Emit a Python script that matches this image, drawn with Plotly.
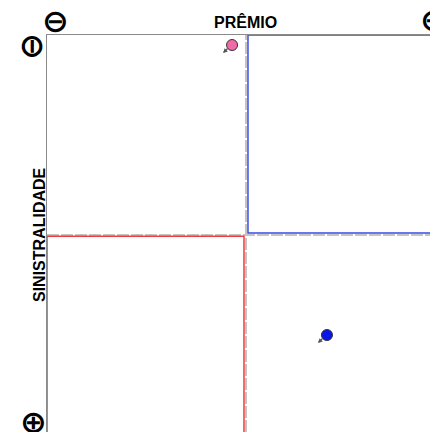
import plotly.graph_objects as go

# Data
names = ["Ponto A", "Ponto B"]
premio = [-0.07, 0.407]          # x: PRÊMIO (negative = left / "−")
sinistralidade = [-0.95, 0.50]   # y: SINISTRALIDADE (negative = top / "−")
colors = ["#f06aa8", "#0a14e6"]

x_title = "PRÊMIO"
y_title = "SINISTRALIDADE"

OFF = 8  # page body margin
W, H = 438 - OFF, 432 - OFF
ML, MT = 47 - OFF, 35 - OFF
PW, PH = W - ML, H - MT
X_RANGE = [-1, 0.965]
Y_RANGE = [0.985, -1]

fig = go.Figure()

fig.add_trace(go.Scatter(
    x=premio, y=sinistralidade, mode="markers", text=names,
    marker=dict(size=11, color=colors, line=dict(color="#333", width=1)),
    hoverinfo="text", showlegend=False,
))

shapes = [
    # dashed centre lines
    dict(type="line", xref="x", yref="paper", x0=0, x1=0, y0=0, y1=1,
         line=dict(color="#c4c4c4", width=2, dash="12px,2px"), layer="below"),
    dict(type="line", xref="paper", yref="y", x0=0, x1=1, y0=0, y1=0,
         line=dict(color="#c4c4c4", width=2, dash="12px,2px"), layer="below"),
    # quadrant rectangles
    dict(type="rect", xref="x", yref="y", x0=0.01, x1=1.1, y0=-1, y1=-0.01,
         line=dict(color="#3a4ae8", width=1.5), layer="above"),
    dict(type="rect", xref="x", yref="y", x0=-1, x1=-0.01, y0=0.006, y1=1.1,
         line=dict(color="#f03c3c", width=1.5), layer="above"),
]

annotations = []
# small arrows next to points
for xv, yv in zip(premio, sinistralidade):
    annotations.append(dict(
        x=xv, y=yv, xref="x", yref="y", text="", showarrow=True,
        xshift=-9, yshift=-8, ax=6, ay=-6, arrowhead=2, arrowsize=0.7,
        arrowwidth=1.3, arrowcolor="#555",
    ))

def px_x(px):
    return (px - OFF - ML) / PW

def px_y(py):
    return (H - (py - OFF)) / PH

sym_font = dict(family="DejaVu Sans", size=32, color="black")
annotations += [
    dict(text="<b>" + x_title + "</b>", x=px_x(245), y=px_y(22), xref="paper", yref="paper",
         showarrow=False, font=dict(family="Liberation Sans", size=16, color="black"),
         xanchor="center", yanchor="middle"),
    dict(text="<b>" + y_title + "</b>", x=px_x(39), y=px_y(235), xref="paper", yref="paper",
         showarrow=False, textangle=-90,
         font=dict(family="Liberation Sans", size=16, color="black"),
         xanchor="center", yanchor="middle"),
    dict(text="<b>⊖</b>", x=px_x(55), y=px_y(21), xref="paper", yref="paper",
         showarrow=False, font=sym_font, xanchor="center", yanchor="middle"),
    dict(text="<b>⊕</b>", x=px_x(433), y=px_y(20), xref="paper", yref="paper",
         showarrow=False, font=sym_font, xanchor="center", yanchor="middle"),
    dict(text="<b>⊖</b>", x=px_x(33), y=px_y(46), xref="paper", yref="paper",
         showarrow=False, font=sym_font, textangle=90, xanchor="center", yanchor="middle"),
    dict(text="<b>⊕</b>", x=px_x(33), y=px_y(422), xref="paper", yref="paper",
         showarrow=False, font=sym_font, xanchor="center", yanchor="middle"),
]

fig.update_layout(
    width=W, height=H,
    margin=dict(l=ML, t=MT, r=0, b=0, pad=0),
    paper_bgcolor="white", plot_bgcolor="white",
    shapes=shapes, annotations=annotations,
    xaxis=dict(range=X_RANGE, side="top", showline=True, linecolor="#8a8a8a",
               linewidth=1, showgrid=False, zeroline=False, showticklabels=False,
               ticks=""),
    yaxis=dict(range=Y_RANGE, showline=True, linecolor="#8a8a8a", linewidth=1,
               showgrid=False, zeroline=False, showticklabels=False, ticks=""),
)

fig.write_html("out.html")
